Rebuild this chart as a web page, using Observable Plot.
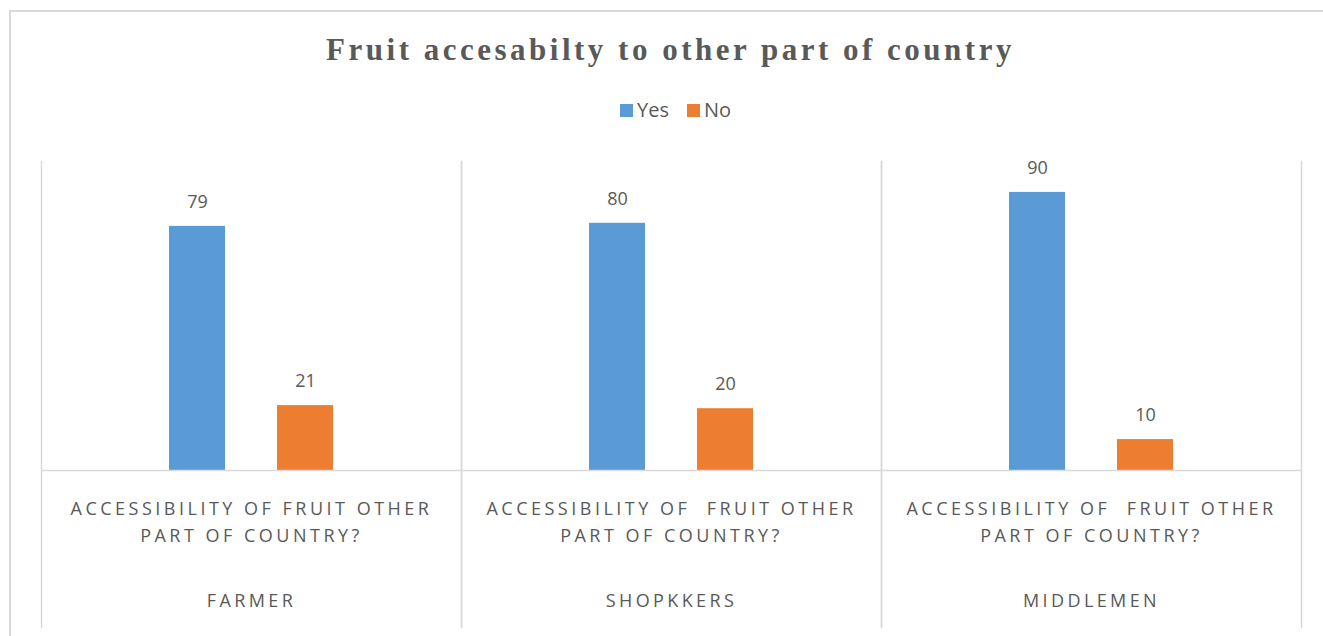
<!DOCTYPE html>
<html>
<head>
<meta charset="utf-8">
<script src="https://cdn.jsdelivr.net/npm/d3@7"></script>
<script src="https://cdn.jsdelivr.net/npm/@observablehq/plot@0.6"></script>
<style>
  html, body { margin: 0; padding: 0; background: #fff; width: 1323px; height: 636px; overflow: hidden; }
  #border { position: absolute; left: 9px; top: 10px; width: 1340px; height: 660px; border: 2px solid #d9d9d9; box-sizing: border-box; }
  #title { position: absolute; left: 9px; top: 30px; width: 1323px; text-align: center;
    font-family: "Liberation Serif", "DejaVu Serif", serif; font-weight: bold; font-size: 31px;
    letter-spacing: 3.5px; color: #595959; line-height: 40px; }
  #legend { position: absolute; left: 14px; top: 96px; width: 1323px; display: flex; justify-content: center; gap: 18px;
    font-family: "Open Sans", sans-serif; font-size: 20px; color: #595959; line-height: 28px; }
  #legend span.item { display: flex; align-items: center; gap: 4px; }
  #legend span.sw { display: inline-block; width: 13px; height: 13px; }
  #chart { position: absolute; left: 0; top: 150px; }
  #chart svg { font-family: "Open Sans", sans-serif; overflow: visible; }
  #chart svg text:has(tspan) { letter-spacing: 3.5px; white-space: pre; }
  g[aria-label="fx-axis tick label"] text { letter-spacing: 3.4px; }
</style>
</head>
<body>
<div id="border"></div>
<div id="title">Fruit accesabilty to other part of country</div>
<div id="legend"></div>
<div id="chart"></div>
<script>
// ---- data ----
const groups = ["FARMER", "SHOPKKERS", "MIDDLEMEN"];
const questions = [
  "ACCESSIBILITY OF FRUIT OTHER\nPART OF COUNTRY?",
  "ACCESSIBILITY OF  FRUIT OTHER\nPART OF COUNTRY?",
  "ACCESSIBILITY OF  FRUIT OTHER\nPART OF COUNTRY?"
];
const seriesNames = ["Yes", "No"];
const yesValues = [79, 80, 90];
const noValues = [21, 20, 10];
const seriesColors = ["#5B9BD5", "#ED7D31"];

// ---- tables built from arrays ----
const table = [];
groups.forEach((g, i) => {
  table.push({group: g, series: seriesNames[0], value: yesValues[i]});
  table.push({group: g, series: seriesNames[1], value: noValues[i]});
});
const qTable = groups.map((g, i) => ({group: g, question: questions[i]}));

// ---- legend ----
const legend = document.getElementById("legend");
seriesNames.forEach((s, i) => {
  const item = document.createElement("span");
  item.className = "item";
  const sw = document.createElement("span");
  sw.className = "sw";
  sw.style.background = seriesColors[i];
  item.appendChild(sw);
  item.appendChild(document.createTextNode(s));
  legend.appendChild(item);
});

// ---- chart ----
const gridColor = "#d9d9d9";
const textColor = "#595959";
const chart = Plot.plot({
  width: 1323,
  height: 486,
  marginLeft: 40,
  marginRight: 21,
  marginTop: 11,
  marginBottom: 166,
  fx: {domain: groups, padding: 0, label: null},
  x: {domain: seriesNames, paddingInner: 0.477, paddingOuter: 1.17, axis: null},
  y: {domain: [0, 100], axis: null},
  color: {domain: seriesNames, range: seriesColors},
  marks: [
    Plot.frame({anchor: "left", stroke: gridColor, strokeWidth: 1.5, insetBottom: -157}),
    Plot.frame({anchor: "right", stroke: gridColor, strokeWidth: 1.5, insetBottom: -157}),
    Plot.barY(table, {fx: "group", x: "series", y: "value", fill: "series"}),
    Plot.ruleY([0], {stroke: gridColor, strokeWidth: 1.5}),
    Plot.text(table, {fx: "group", x: "series", y: "value", text: d => String(d.value),
      dy: -24, fill: textColor, fontSize: 18}),
    Plot.text(qTable, {fx: "group", text: "question", frameAnchor: "bottom", dy: 71,
      lineHeight: 1.5, fill: textColor, fontSize: 18}),
    Plot.axisFx({anchor: "bottom", tickSize: 0, tickPadding: 124, fontSize: 18, fill: textColor, label: null})
  ]
});
document.getElementById("chart").appendChild(chart);
</script>
</body>
</html>
